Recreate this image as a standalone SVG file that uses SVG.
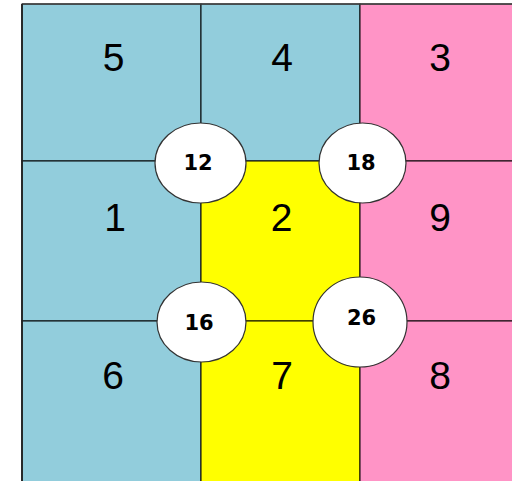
<svg xmlns="http://www.w3.org/2000/svg" width="512" height="481" viewBox="0 0 512 481">
<style>
.cell{stroke:#000;stroke-width:1}
.blue{fill:#92CDDC}.pink{fill:#FF94C6}.yellow{fill:#FFFF00}
.big{font-family:"Liberation Sans",Arial,sans-serif;fill:#000;text-anchor:middle}
.nodeshape{fill:#fff;stroke:#333;stroke-width:1.2}
.nodelabel{font-family:"DejaVu Sans",sans-serif;font-weight:bold;fill:#000;text-anchor:middle}
</style>
<rect width="512" height="481" fill="#fff"/>
<g id="cells">
<rect class="cell blue" x="22" y="4" width="179" height="157"/>
<rect class="cell blue" x="201" y="4" width="159" height="157"/>
<rect class="cell pink" x="360" y="4" width="160" height="157"/>
<rect class="cell blue" x="22" y="161" width="179" height="160"/>
<rect class="cell yellow" x="201" y="161" width="159" height="160"/>
<rect class="cell pink" x="360" y="161" width="160" height="160"/>
<rect class="cell blue" x="22" y="321" width="179" height="170"/>
<rect class="cell yellow" x="201" y="321" width="159" height="170"/>
<rect class="cell pink" x="360" y="321" width="160" height="170"/>
<line x1="22" y1="4" x2="512" y2="4" stroke="#444" stroke-width="1.6"/>
<line x1="22" y1="4" x2="22" y2="481" stroke="#222" stroke-width="1.8"/>
</g>
<g id="labels" font-size="39">
<text class="big" x="113.5" y="71">5</text>
<text class="big" x="282" y="71">4</text>
<text class="big" x="440" y="71">3</text>
<text class="big" x="115" y="231">1</text>
<text class="big" x="281.5" y="231">2</text>
<text class="big" x="440" y="231">9</text>
<text class="big" x="113" y="389">6</text>
<text class="big" x="282" y="389">7</text>
<text class="big" x="440" y="389">8</text>
</g>
<g id="connectors"></g>
<g id="n12"><ellipse class="nodeshape" cx="200.5" cy="163" rx="45.5" ry="40"/><text class="nodelabel" font-size="21" x="198" y="170">12</text></g>
<g id="n18"><ellipse class="nodeshape" cx="362.5" cy="163" rx="43.5" ry="40"/><text class="nodelabel" font-size="21" x="361" y="170">18</text></g>
<g id="n16"><ellipse class="nodeshape" cx="201.5" cy="322" rx="44.5" ry="40"/><text class="nodelabel" font-size="21" x="199" y="330">16</text></g>
<g id="n26"><ellipse class="nodeshape" cx="360" cy="322" rx="47" ry="45"/><text class="nodelabel" font-size="21" x="361.5" y="325">26</text></g>
</svg>
